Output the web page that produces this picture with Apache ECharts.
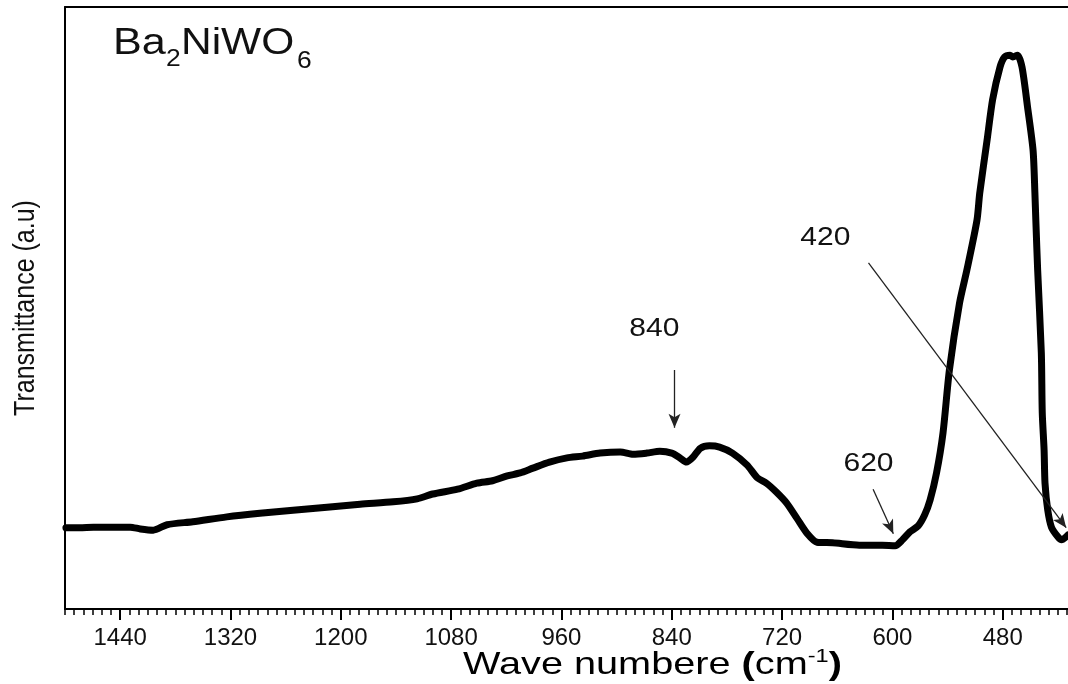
<!DOCTYPE html>
<html>
<head>
<meta charset="utf-8">
<script src="https://cdn.jsdelivr.net/npm/echarts@6/dist/echarts.min.js"></script>
<style>
html,body{margin:0;padding:0;background:#fff;}
#chart{width:1068px;height:684px;}
</style>
</head>
<body>
<div id="chart"></div>
<script>
// ---- Data ----
const wavenumbers = [1499,1484,1469,1451,1429,1418,1404,1389,1361,1324,1288,1252,1215,1179,1143,1117,1100,1073,1052,1035,1019,1005,991,973,954,937,918,896,882,867,853,840,831,824,817,809,799,788,774,758,747,737,726,715,704,693,682,665,636,611,597,589,581,572,565,559,552,545,538,527,519,508,505,497,491,483,478,472,469,464,459,453,447,445,444,442,438,437,435,434,431,427,420,416,409];
const transmittance = [13.5,13.5,13.6,13.6,13.6,13.3,13.1,14.0,14.5,15.3,15.9,16.4,16.9,17.4,17.8,18.3,19.1,19.9,20.9,21.3,22.1,22.6,23.4,24.4,25.1,25.4,25.9,26.1,25.7,25.9,26.2,25.9,25.1,24.4,25.2,26.7,27.1,26.9,25.9,23.9,21.8,20.9,19.4,17.6,15.1,12.6,11.1,11.0,10.6,10.6,10.5,11.5,12.8,13.8,15.6,18.1,22.6,29.2,39.7,50.8,56.3,64.6,69.1,77.9,84.6,90.0,91.7,92.0,91.7,92.0,90.0,83.4,76.2,69.1,64.6,56.3,42.5,32.6,26.4,20.9,16.4,13.6,12.0,11.5,12.3];
const majorTicks = [1440,1320,1200,1080,960,840,720,600,480];
const xRange = [409, 1500];
const yRange = [0, 100];
// annotation arrows: [from wavenumber, from value, to wavenumber, to value]
const arrows = [
  [837, 39.7, 837, 30.1],
  [621, 19.9, 599, 12.5],
  [626, 57.5, 411, 13.5]
];
// annotation labels: [text, wavenumber, value]
const peakLabels = [
  ['840', 859, 46.5],
  ['620', 626, 24.1],
  ['420', 673, 61.6]
];

const minorTicks = [];
for (let v = 410; v <= 1500; v += 10) minorTicks.push(v);

const FONT = 'Arial, "Liberation Sans", Helvetica, sans-serif';
const chart = echarts.init(document.getElementById('chart'), null, {renderer: 'canvas'});

const seriesData = wavenumbers.map((w, i) => [w, transmittance[i]]);

const option = {
  animation: false,
  backgroundColor: '#fff',
  grid: {left: 65, right: 0, top: 7, bottom: 75, containLabel: false},
  xAxis: [
    {
      type: 'value', min: xRange[0], max: xRange[1], inverse: true, position: 'bottom',
      axisLine: {show: true, lineStyle: {color: '#000', width: 2}},
      axisTick: {show: true, customValues: majorTicks, length: 11, lineStyle: {color: '#000', width: 2}},
      axisLabel: {show: true, customValues: majorTicks, fontSize: 24, color: '#111', fontFamily: FONT, margin: 17,
                  formatter: v => String(v)},
      splitLine: {show: false}
    },
    {
      type: 'value', min: xRange[0], max: xRange[1], inverse: true, position: 'bottom',
      axisLine: {show: false},
      axisTick: {show: true, customValues: minorTicks, length: 6, lineStyle: {color: '#000', width: 1.5}},
      axisLabel: {show: false},
      splitLine: {show: false}
    },
    {
      type: 'value', min: xRange[0], max: xRange[1], inverse: true, position: 'top',
      axisLine: {show: true, lineStyle: {color: '#000', width: 2}},
      axisTick: {show: false}, axisLabel: {show: false}, splitLine: {show: false}
    }
  ],
  yAxis: {
    type: 'value', min: yRange[0], max: yRange[1],
    axisLine: {show: true, lineStyle: {color: '#000', width: 2}},
    axisTick: {show: false}, axisLabel: {show: false}, splitLine: {show: false}
  },
  series: [{
    type: 'line',
    xAxisIndex: 0,
    data: seriesData,
    showSymbol: false,
    smooth: 0.25,
    lineStyle: {color: '#000', width: 7, cap: 'round', join: 'round'},
    clip: true,
    markLine: {
      silent: true,
      symbol: ['none', 'arrow'],
      symbolSize: [9, 14],
      label: {show: false},
      lineStyle: {color: '#222', width: 1.3, type: 'solid'},
      data: arrows.map(a => [{coord: [a[0], a[1]]}, {coord: [a[2], a[3]]}])
    }
  }]
};
chart.setOption(option);

// Text elements placed via the chart's scales
const graphics = [];
peakLabels.forEach(p => {
  const pt = chart.convertToPixel({gridIndex: 0}, [p[1], p[2]]);
  graphics.push({
    type: 'text', x: pt[0], y: pt[1], scaleX: 1.2,
    style: {text: p[0], fill: '#111', font: '25px ' + FONT, align: 'center', verticalAlign: 'middle'}
  });
});
// compound formula
graphics.push({type: 'text', x: 113, y: 44, scaleX: 1.2, style: {text: 'Ba', fill: '#111', font: '36px ' + FONT, align: 'left', verticalAlign: 'middle'}});
graphics.push({type: 'text', x: 166, y: 60, scaleX: 1.15, style: {text: '2', fill: '#111', font: '23px ' + FONT, align: 'left', verticalAlign: 'middle'}});
graphics.push({type: 'text', x: 181, y: 44, scaleX: 1.18, style: {text: 'NiWO', fill: '#111', font: '36px ' + FONT, align: 'left', verticalAlign: 'middle'}});
graphics.push({type: 'text', x: 297, y: 62, scaleX: 1.15, style: {text: '6', fill: '#111', font: '23px ' + FONT, align: 'left', verticalAlign: 'middle'}});
// y axis title
graphics.push({type: 'text', x: 26, y: 308, rotation: Math.PI / 2, scaleY: 1.17,
  style: {text: 'Transmittance (a.u)', fill: '#111', font: '25px ' + FONT, align: 'center', verticalAlign: 'middle'}});
// x axis title
graphics.push({type: 'text', x: 463, y: 665, scaleX: 1.24,
  style: {
    text: '{n|Wave numbere }{b|(}{n|cm}{s|-1}{b|)}',
    align: 'left', verticalAlign: 'middle',
    rich: {
      n: {fontSize: 32, fontFamily: FONT, color: '#111'},
      b: {fontSize: 32, fontFamily: FONT, fontWeight: 'bold', color: '#111'},
      s: {fontSize: 19, fontFamily: FONT, color: '#111', padding: [0, 0, 16, 0]}
    }
  }});
chart.setOption({graphic: graphics});
</script>
</body>
</html>
